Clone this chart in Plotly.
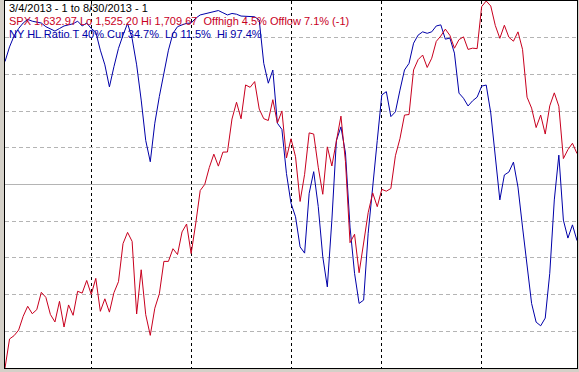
import plotly.graph_objects as go

# Trading-day index 0..126 (3/4/2013 .. 8/30/2013)
spx = [1525.20, 1539.79, 1541.46, 1544.26, 1551.18, 1556.22, 1552.48, 1554.52, 1563.23, 1560.70,
       1552.10, 1548.34, 1558.71, 1545.80, 1556.89, 1551.69, 1563.77, 1562.85, 1569.19,
       1562.17, 1570.25, 1553.69, 1559.98, 1553.28, 1563.07, 1568.61, 1587.73, 1593.37, 1588.85,
       1552.36, 1574.57, 1552.01, 1541.61, 1555.25, 1562.50, 1578.78, 1578.79, 1585.16, 1582.24,
       1593.61, 1597.57,
       1582.70, 1597.59, 1614.42, 1617.50, 1625.96, 1632.69, 1626.67, 1633.70, 1633.77, 1650.34,
       1658.78, 1650.47, 1667.47, 1666.29, 1669.16, 1655.35, 1650.51, 1649.60, 1660.06, 1648.36,
       1654.41, 1630.74,
       1640.42, 1631.38, 1608.90, 1622.56, 1643.38, 1642.81, 1626.13, 1612.52, 1636.36, 1626.73,
       1639.04, 1651.81, 1628.93, 1588.19, 1592.43, 1573.09, 1588.03, 1603.26, 1613.20, 1606.28,
       1614.96, 1614.08, 1615.41, 1631.89, 1640.46, 1652.32, 1652.62, 1675.02, 1680.19, 1682.50,
       1676.26, 1680.91, 1689.37, 1692.09, 1695.53, 1692.39, 1685.94, 1690.25, 1691.65, 1685.33,
       1685.96, 1685.73,
       1706.87, 1709.67, 1707.14, 1697.37, 1690.91, 1697.48, 1691.42, 1689.47, 1694.16, 1685.39,
       1661.32, 1655.83, 1646.06, 1652.35, 1642.80, 1656.96, 1663.50, 1656.78, 1630.48, 1634.96,
       1638.17, 1632.97]

hl_ratio = [83.5, 87.5, 90.5, 92.5, 94.0, 95.0, 94.5, 94.2, 94.0, 93.0,
            92.5, 91.8, 92.5, 93.2, 93.5, 93.8, 94.5, 93.2, 94.0, 92.5,
            91.5, 86.6, 82.6, 76.6, 82.1, 87.1, 90.7, 93.9, 89.8, 82.6,
            73.0, 62.0, 56.2, 66.7, 74.0, 80.3, 86.6, 91.2, 93.0, 93.5,
            93.9, 94.0, 95.3, 96.2, 96.5, 96.8, 97.3, 97.4, 96.8, 96.2,
            96.6, 96.4, 95.9, 95.9, 95.9, 95.7, 94.8, 83.0, 77.6, 81.2,
            66.7, 65.0, 53.0, 44.9, 41.2, 33.0, 31.3, 47.6, 53.5, 44.0,
            30.3, 22.1, 40.3, 62.0, 65.7, 58.6, 38.4, 25.8, 17.6, 18.5,
            36.7, 48.5, 62.0, 74.4, 75.3, 68.5, 69.8, 75.7, 81.2, 83.0,
            88.5, 90.7, 91.6, 91.2, 91.6, 93.2, 93.5, 89.6, 89.9, 85.8,
            74.9, 73.5, 71.4, 72.8, 73.8, 76.8, 77.1, 69.5, 57.5, 45.8,
            52.6, 53.4, 56.1, 49.3, 38.4, 27.5, 17.6, 12.5, 11.5, 13.6,
            25.8, 45.8, 58.0, 40.3, 35.4, 39.0, 34.7]

month_starts = [19, 41, 63, 83, 105]
hl_grid = [10, 20, 30, 40, 60, 70, 80, 90]
spx_lo, spx_hi = 1525.20, 1709.67

title_line = "3/4/2013 - 1 to 8/30/2013 - 1"
spx_line = "SPX 1,632.97 Lo 1,525.20 Hi 1,709.67  Offhigh 4.5% Offlow 7.1% (-1)"
hl_line = "NY HL Ratio T 40% Cur 34.7%  Lo 11.5%  Hi 97.4%"

RED = "#c8001e"
BLUE = "#0000a8"

days = list(range(len(spx)))

fig = go.Figure()
fig.add_trace(go.Scatter(x=days, y=spx, yaxis="y2", mode="lines",
                         line=dict(color=RED, width=1), hoverinfo="skip"))
fig.add_trace(go.Scatter(x=days, y=hl_ratio, yaxis="y", mode="lines",
                         line=dict(color=BLUE, width=1), hoverinfo="skip"))

fig.add_shape(type="line", xref="paper", x0=0, x1=1, yref="y", y0=50, y1=50,
              line=dict(color="#b4b4b4", width=1), layer="below")

font = "Liberation Sans, Arial, sans-serif"
for k, (txt, col) in enumerate([(title_line, "#000000"), (spx_line, RED), (hl_line, BLUE)]):
    fig.add_annotation(xref="paper", yref="paper", x=0, y=1, xanchor="left", yanchor="top",
                       text=txt, showarrow=False, xshift=2, yshift=1 - 13 * k,
                       font=dict(family=font, size=11, color=col))

fig.update_layout(
    width=579, height=372,
    margin=dict(l=5, r=2, t=1, b=4),
    paper_bgcolor="#d4d0c8",
    plot_bgcolor="#ffffff",
    showlegend=False,
    xaxis=dict(range=[0, 126], tickvals=month_starts, showticklabels=False, ticks="",
               showgrid=True, gridcolor="#000000", gridwidth=1, griddash="3px,3px",
               zeroline=False, showline=True, mirror=True, linecolor="#000000", linewidth=1,
               fixedrange=True),
    yaxis=dict(range=[0, 100], tickvals=hl_grid, showticklabels=False, ticks="",
               showgrid=True, gridcolor="#b4b4b4", gridwidth=1, griddash="4px,3px",
               zeroline=False, showline=True, mirror=True, linecolor="#000000", linewidth=1,
               fixedrange=True),
    yaxis2=dict(range=[spx_lo, spx_hi], overlaying="y", side="right", showgrid=False,
                showticklabels=False, ticks="", zeroline=False, showline=False, fixedrange=True),
)

fig.write_html("out.html")
